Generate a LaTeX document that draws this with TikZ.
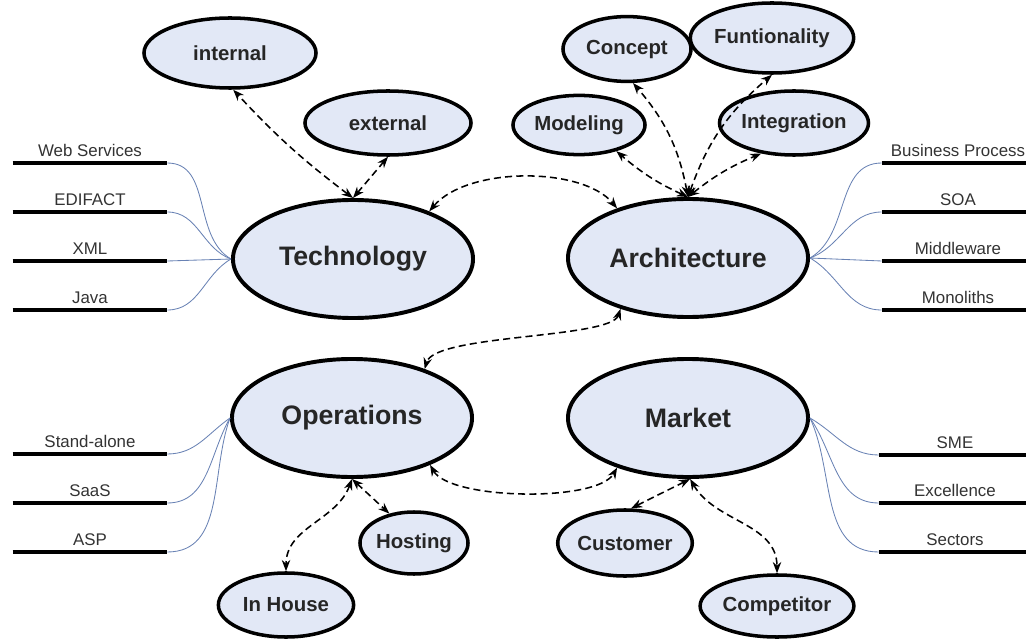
\documentclass[tikz,border=0pt]{standalone}
\usepackage{fontspec}
\setmainfont{Liberation Sans}
\usepackage{tikz}
\usetikzlibrary{shapes.geometric, arrows.meta}
\definecolor{ellfill}{RGB}{226,232,246}
\definecolor{branchblue}{RGB}{105,130,180}
\tikzstyle{topic} = [ellipse, minimum width=6cm, minimum height=2.95cm, inner sep=0pt, text centered, draw=black, line width=2.8pt, fill=ellfill, text=black!85, font=\fontsize{19}{22}\selectfont\bfseries]
\tikzstyle{aspect} = [ellipse, inner sep=0pt, text centered, draw=black, line width=2.5pt, fill=ellfill, text=black!85, font=\fontsize{14.5}{17}\selectfont\bfseries]
\tikzstyle{leaf} = [rectangle, anchor=south, minimum width=3.85cm, inner sep=4.5pt, text centered, text=black!80, font=\fontsize{12}{14}\selectfont]
\tikzstyle{leafline} = [line width=2.8pt, black]
\tikzstyle{branch} = [line width=0.6pt, branchblue]
\tikzstyle{link} = [line width=1.1pt, dash pattern=on 5pt off 3pt, <->, >={Stealth[length=8pt,width=6pt]}]

\begin{document}
\begin{tikzpicture}[x=0.025cm, y=0.025cm]
    \useasboundingbox (0,0) rectangle (1026,640);

    % main topics
    \node (technology) [topic] at (353,381) {Technology};
    \node (architecture) [topic] at (688,382) {Architecture};
    \node (operations) [topic] at (352,222) {Operations};
    \node (market) [topic] at (688,222) {Market};

    % aspects
    \node (internal) [aspect, minimum width=4.3cm, minimum height=1.75cm] at (230,587) {internal};
    \node (external) [aspect, minimum width=4.15cm, minimum height=1.6cm] at (388,517) {external};
    \node (concept) [aspect, minimum width=3.2cm, minimum height=1.62cm] at (627,591) {Concept};
    \node (funtionality) [aspect, minimum width=3.3cm, minimum height=1.75cm] at (772,602) {Funtionality};
    \node (modeling) [aspect, minimum width=3.3cm, minimum height=1.48cm] at (579,515) {Modeling};
    \node (integration) [aspect, minimum width=3.12cm, minimum height=1.6cm] at (794,517) {Integration};
    \node (hosting) [aspect, minimum width=2.7cm, minimum height=1.55cm] at (414,97) {Hosting};
    \node (inhouse) [aspect, minimum width=3.38cm, minimum height=1.6cm] at (286,35) {In House};
    \node (customer) [aspect, minimum width=3.28cm, minimum height=1.65cm] at (625,97) {Customer};
    \node (competitor) [aspect, minimum width=3.3cm, minimum height=1.55cm] at (777,34) {Competitor};

    % leaves
    \node (webservices) [leaf] at (90,477) {Web Services};
    \node (edifact) [leaf] at (90,428) {EDIFACT};
    \node (xml) [leaf] at (90,379) {XML};
    \node (java) [leaf] at (90,330) {Java};
    \node (standalone) [leaf] at (90,186) {Stand-alone};
    \node (saas) [leaf] at (90,137) {SaaS};
    \node (asp) [leaf] at (90,88) {ASP};
    \node (businessprocess) [leaf, minimum width=3.8cm] at (958,477) {Business Process};
    \node (soa) [leaf, minimum width=3.8cm] at (958,428) {SOA};
    \node (middleware) [leaf, minimum width=3.8cm] at (958,379) {Middleware};
    \node (monoliths) [leaf, minimum width=3.8cm] at (958,330) {Monoliths};
    \node (sme) [leaf, minimum width=3.8cm] at (955,185) {SME};
    \node (excellence) [leaf, minimum width=3.8cm] at (955,137) {Excellence};
    \node (sectors) [leaf, minimum width=3.8cm] at (955,88) {Sectors};

    \draw [leafline] (webservices.south west) -- (webservices.south east);
    \draw [leafline] (edifact.south west) -- (edifact.south east);
    \draw [leafline] (xml.south west) -- (xml.south east);
    \draw [leafline] (java.south west) -- (java.south east);
    \draw [leafline] (standalone.south west) -- (standalone.south east);
    \draw [leafline] (saas.south west) -- (saas.south east);
    \draw [leafline] (asp.south west) -- (asp.south east);
    \draw [leafline] (businessprocess.south west) -- (businessprocess.south east);
    \draw [leafline] (soa.south west) -- (soa.south east);
    \draw [leafline] (middleware.south west) -- (middleware.south east);
    \draw [leafline] (monoliths.south west) -- (monoliths.south east);
    \draw [leafline] (sme.south west) -- (sme.south east);
    \draw [leafline] (excellence.south west) -- (excellence.south east);
    \draw [leafline] (sectors.south west) -- (sectors.south east);

    % branches to the leaves
    \draw [branch] (webservices.south east) to[out=0, in=150] (technology.west);
    \draw [branch] (edifact.south east) to[out=0, in=160] (technology.west);
    \draw [branch] (xml.south east) -- (technology.west);
    \draw [branch] (java.south east) to[out=0, in=210] (technology.west);
    \draw [branch] (standalone.south east) to[out=0, in=215] (operations.west);
    \draw [branch] (saas.south east) to[out=0, in=240] (operations.west);
    \draw [branch] (asp.south east) to[out=0, in=250] (operations.west);
    \draw [branch] (architecture.east) to[out=30, in=180] (businessprocess.south west);
    \draw [branch] (architecture.east) to[out=20, in=180] (soa.south west);
    \draw [branch] (architecture.east) -- (middleware.south west);
    \draw [branch] (architecture.east) to[out=-30, in=180] (monoliths.south west);
    \draw [branch] (market.east) to[out=-30, in=180] (sme.south west);
    \draw [branch] (market.east) to[out=-55, in=180] (excellence.south west);
    \draw [branch] (market.east) to[out=-65, in=180] (sectors.south west);

    % links between topics
    \draw [link] (technology.32) .. controls +(38,45) and +(-35,42) .. (architecture.145);
    \draw [link] (architecture.217) .. controls +(-10,-30) and +(10,35) .. (operations.34);
    \draw [link] (operations.329) .. controls +(20,-35) and +(-20,-35) .. (market.215);

    % links to aspects
    \draw [link] (technology.north) to[bend left=5] (internal.-85);
    \draw [link] (technology.north) -- (external.south);
    \draw [link] (architecture.north) to[bend left=8] (modeling.-35);
    \draw [link] (architecture.north) to[bend right=15] (concept.-80);
    \draw [link] (architecture.north) to[bend left=15] (funtionality.south);
    \draw [link] (architecture.north) to[bend left=8] (integration.223);
    \draw [link] (operations.south) to[out=-110, in=90] (inhouse.north);
    \draw [link] (operations.south) -- (hosting.130);
    \draw [link] (market.-88) -- (customer.80);
    \draw [link] (market.-88) to[out=-60, in=90] (competitor.north);
\end{tikzpicture}
\end{document}
